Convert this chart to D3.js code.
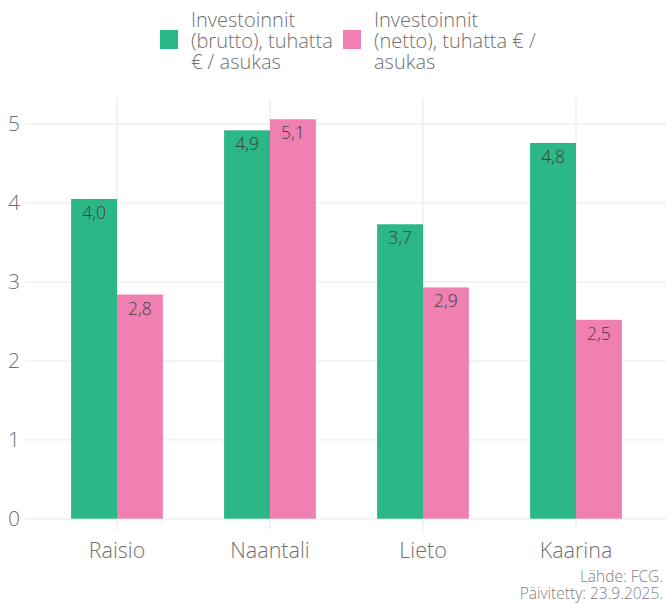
<!DOCTYPE html>
<html>
<head>
<meta charset="utf-8">
<script src="https://cdn.jsdelivr.net/npm/d3@7"></script>
<style>
  html, body { margin: 0; padding: 0; background: #fff; }
  svg { display: block; font-family: "Open Sans", "Lato", sans-serif; font-weight: 300; }
</style>
</head>
<body>
<svg id="chart" width="666" height="603"></svg>
<script>
// Municipalities and investment figures (thousand € per resident)
const categories = ["Raisio", "Naantali", "Lieto", "Kaarina"];
const grossValues = [4.05, 4.92, 3.73, 4.76];
const netValues = [2.84, 5.06, 2.93, 2.52];
const legendLines = [
  ["Investoinnit", "(brutto), tuhatta", "€ / asukas"],
  ["Investoinnit", "(netto), tuhatta € /", "asukas"]
];
const yTicks = [0, 1, 2, 3, 4, 5];
const colors = ["#2bb886", "#f180b2"];
const footer = ["Lähde: FCG.", "Päivitetty: 23.9.2025."];

const svg = d3.select("#chart");
const W = 666, H = 603;

const x = d3.scaleBand().domain(categories).range([40.5, 652.5]).paddingInner(0.4).paddingOuter(0.2);
const xs = d3.scaleBand().domain([0, 1]).range([0, x.bandwidth()]);
const y = d3.scaleLinear().domain([0, 5]).range([518.7, 124]);

const fmt = v => d3.format(".1f")(v).replace(".", ",");

// gridlines
const grid = svg.append("g");
grid.selectAll("line.h").data(yTicks).join("line")
  .attr("x1", 25).attr("x2", W)
  .attr("y1", d => y(d)).attr("y2", d => y(d))
  .attr("stroke", "#f3f3f3").attr("stroke-width", 2);
grid.selectAll("line.v").data(categories).join("line")
  .attr("x1", d => x(d) + x.bandwidth() / 2).attr("x2", d => x(d) + x.bandwidth() / 2)
  .attr("y1", 98).attr("y2", 530)
  .attr("stroke", "#f3f3f3").attr("stroke-width", 2);

// y axis labels
svg.append("g").selectAll("text").data(yTicks).join("text")
  .attr("x", 20).attr("y", d => y(d))
  .attr("dy", "0.35em").attr("text-anchor", "end")
  .attr("font-size", 21).attr("fill", "#707070")
  .text(d => d);

// x axis labels
svg.append("g").selectAll("text").data(categories).join("text")
  .attr("x", d => x(d) + x.bandwidth() / 2).attr("y", 558)
  .attr("text-anchor", "middle")
  .attr("font-size", 21.5).attr("fill", "#707070")
  .text(d => d);

// bars
const series = [grossValues, netValues];
const groups = svg.append("g").selectAll("g").data(categories).join("g")
  .attr("transform", d => `translate(${x(d)},0)`);

groups.each(function (cat, i) {
  const g = d3.select(this);
  series.forEach((vals, s) => {
    const v = vals[i];
    g.append("rect")
      .attr("x", xs(s)).attr("width", xs.bandwidth())
      .attr("y", y(v)).attr("height", y(0) - y(v))
      .attr("fill", colors[s]);
    g.append("text")
      .attr("x", xs(s) + xs.bandwidth() / 2).attr("y", y(v) + 20)
      .attr("text-anchor", "middle")
      .attr("font-size", 17.5).attr("fill", "#404040")
      .text(fmt(v));
  });
});

// legend
const legendX = [160, 343];
legendLines.forEach((lines, s) => {
  const lg = svg.append("g").attr("transform", `translate(${legendX[s]},0)`);
  lg.append("rect").attr("x", 0).attr("y", 30).attr("width", 18).attr("height", 19).attr("fill", colors[s]);
  lg.append("text")
    .attr("font-size", 20).attr("fill", "#707070")
    .selectAll("tspan").data(lines).join("tspan")
    .attr("x", 31).attr("y", (d, k) => 27 + k * 21)
    .text(d => d);
});

// footer
svg.append("g").selectAll("text").data(footer).join("text")
  .attr("x", 663).attr("y", (d, k) => 582 + k * 17)
  .attr("text-anchor", "end")
  .attr("font-size", 15.5).attr("fill", "#808080")
  .text(d => d);
</script>
</body>
</html>
